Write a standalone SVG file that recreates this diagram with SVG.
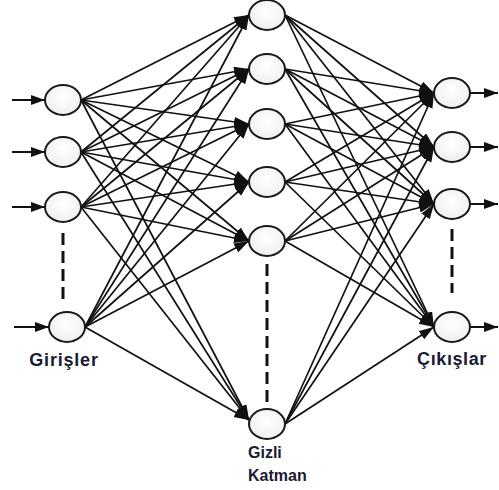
<svg xmlns="http://www.w3.org/2000/svg" width="499" height="490" viewBox="0 0 499 490">
<style>
.n{fill:url(#g);stroke:#1a1a1a;stroke-width:2}
.e{stroke:#111;stroke-width:1.7;fill:none;marker-end:url(#ah)}
.io{stroke:#111;stroke-width:2;fill:none;marker-end:url(#ah2)}
.d{stroke:#111;stroke-width:3;stroke-dasharray:12 6;fill:none}
.t{font-family:"Liberation Sans",Arial,sans-serif;font-weight:bold;fill:#1a1a33}
</style>
<defs>
<radialGradient id="g" cx="0.5" cy="0.4" r="0.7"><stop offset="0" stop-color="#ffffff"/><stop offset="1" stop-color="#ececec"/></radialGradient>
<marker id="ah" markerUnits="userSpaceOnUse" markerWidth="16" markerHeight="12" refX="15" refY="5" orient="auto"><path d="M0,0 L15,5 L0,10 Z" fill="#111"/></marker>
<marker id="ah2" markerUnits="userSpaceOnUse" markerWidth="16" markerHeight="12" refX="14" refY="5" orient="auto"><path d="M0,0 L14,5 L0,10 Z" fill="#111"/></marker>
</defs>
<g id="connectors">
<path class="io" d="M12,100 H45"/>
<path class="io" d="M12,152 H45"/>
<path class="io" d="M12,207 H45"/>
<path class="io" d="M14,327 H49"/>
<path class="io" d="M470,93 H498"/>
<path class="io" d="M470,147 H498"/>
<path class="io" d="M470,204 H498"/>
<path class="io" d="M470,327 H498"/>
<path class="d" d="M63,233 V305"/>
<path class="d" d="M267,264 V404"/>
<path class="d" d="M452,229 V293"/>
<path class="e" d="M81,100 L249,15"/>
<path class="e" d="M81,100 L249,69"/>
<path class="e" d="M81,100 L249,124"/>
<path class="e" d="M81,100 L249,182"/>
<path class="e" d="M81,100 L249,241"/>
<path class="e" d="M81,100 L249,420"/>
<path class="e" d="M81,152 L249,15"/>
<path class="e" d="M81,152 L249,69"/>
<path class="e" d="M81,152 L249,124"/>
<path class="e" d="M81,152 L249,182"/>
<path class="e" d="M81,152 L249,241"/>
<path class="e" d="M81,152 L249,420"/>
<path class="e" d="M81,207 L249,15"/>
<path class="e" d="M81,207 L249,69"/>
<path class="e" d="M81,207 L249,124"/>
<path class="e" d="M81,207 L249,182"/>
<path class="e" d="M81,207 L249,241"/>
<path class="e" d="M81,207 L249,420"/>
<path class="e" d="M85,327 L249,15"/>
<path class="e" d="M85,327 L249,69"/>
<path class="e" d="M85,327 L249,124"/>
<path class="e" d="M85,327 L249,182"/>
<path class="e" d="M85,327 L249,241"/>
<path class="e" d="M85,327 L249,420"/>
<path class="e" d="M285,15 L434,93"/>
<path class="e" d="M285,15 L434,147"/>
<path class="e" d="M285,15 L434,204"/>
<path class="e" d="M285,15 L434,327"/>
<path class="e" d="M285,69 L434,93"/>
<path class="e" d="M285,69 L434,147"/>
<path class="e" d="M285,69 L434,204"/>
<path class="e" d="M285,69 L434,327"/>
<path class="e" d="M285,124 L434,93"/>
<path class="e" d="M285,124 L434,147"/>
<path class="e" d="M285,124 L434,204"/>
<path class="e" d="M285,124 L434,327"/>
<path class="e" d="M285,182 L434,93"/>
<path class="e" d="M285,182 L434,147"/>
<path class="e" d="M285,182 L434,204"/>
<path class="e" d="M285,182 L434,327"/>
<path class="e" d="M285,241 L434,93"/>
<path class="e" d="M285,241 L434,147"/>
<path class="e" d="M285,241 L434,204"/>
<path class="e" d="M285,241 L434,327"/>
<path class="e" d="M285,424 L434,93"/>
<path class="e" d="M285,424 L434,147"/>
<path class="e" d="M285,424 L434,204"/>
<path class="e" d="M285,424 L434,327"/>
</g>
<g id="in1"><ellipse class="n" cx="63" cy="100" rx="18" ry="15"/></g>
<g id="in2"><ellipse class="n" cx="63" cy="152" rx="18" ry="15"/></g>
<g id="in3"><ellipse class="n" cx="63" cy="207" rx="18" ry="15"/></g>
<g id="in4"><ellipse class="n" cx="67" cy="327" rx="18" ry="15"/></g>
<g id="h1"><ellipse class="n" cx="267" cy="15" rx="18" ry="15"/></g>
<g id="h2"><ellipse class="n" cx="267" cy="69" rx="18" ry="15"/></g>
<g id="h3"><ellipse class="n" cx="267" cy="124" rx="18" ry="15"/></g>
<g id="h4"><ellipse class="n" cx="267" cy="182" rx="18" ry="15"/></g>
<g id="h5"><ellipse class="n" cx="267" cy="241" rx="18" ry="15"/></g>
<g id="h6"><ellipse class="n" cx="267" cy="424" rx="18" ry="15"/></g>
<g id="o1"><ellipse class="n" cx="452" cy="93" rx="18" ry="15"/></g>
<g id="o2"><ellipse class="n" cx="452" cy="147" rx="18" ry="15"/></g>
<g id="o3"><ellipse class="n" cx="452" cy="204" rx="18" ry="15"/></g>
<g id="o4"><ellipse class="n" cx="452" cy="327" rx="18" ry="15"/></g>
<g id="labels">
<text class="t" x="64" y="366" font-size="18" letter-spacing="0.8" text-anchor="middle">Girişler</text>
<text class="t" x="452" y="365" font-size="18" letter-spacing="0.6" text-anchor="middle">Çıkışlar</text>
<text class="t" x="248" y="458" font-size="16">Gizli</text>
<text class="t" x="248" y="481" font-size="16">Katman</text>
</g>
</svg>
